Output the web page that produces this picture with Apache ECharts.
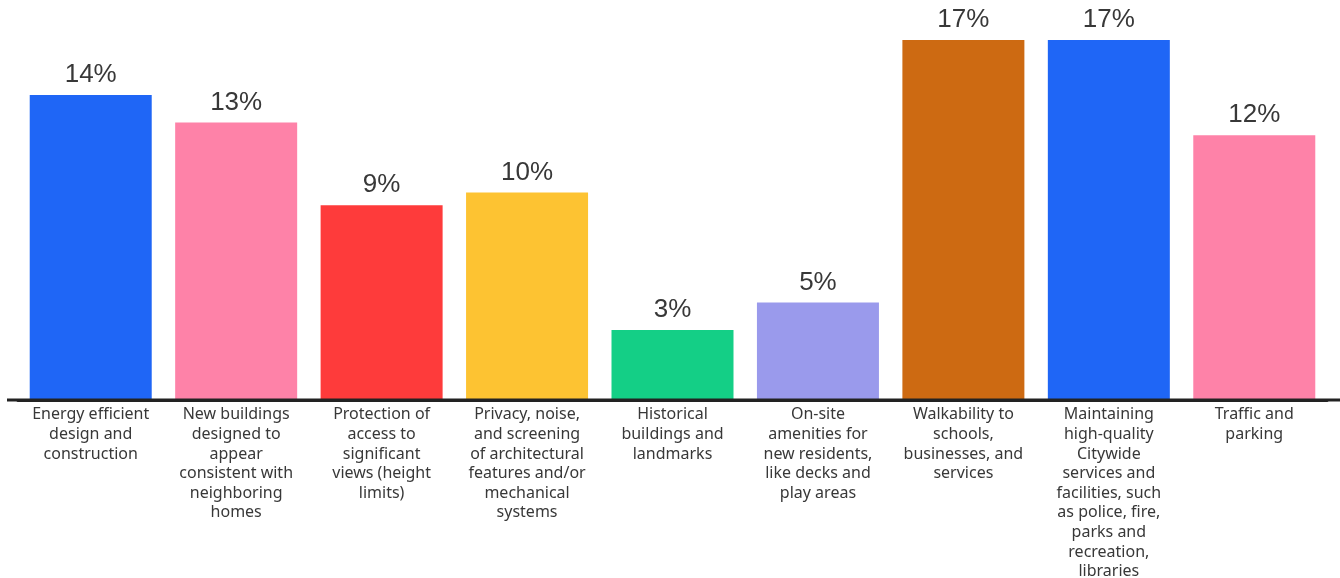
<!DOCTYPE html>
<html>
<head>
<meta charset="utf-8">
<script src="https://cdn.jsdelivr.net/npm/echarts@6/dist/echarts.min.js"></script>
<style>
  html, body { margin: 0; padding: 0; background: #fff; }
  #container { width: 1340px; height: 578px; }
</style>
</head>
<body>
<div id="container"></div>
<script>
var categories = [
    'Energy efficient\ndesign and\nconstruction',
    'New buildings\ndesigned to\nappear\nconsistent with\nneighboring\nhomes',
    'Protection of\naccess to\nsignificant\nviews (height\nlimits)',
    'Privacy, noise,\nand screening\nof architectural\nfeatures and/or\nmechanical\nsystems',
    'Historical\nbuildings and\nlandmarks',
    'On-site\namenities for\nnew residents,\nlike decks and\nplay areas',
    'Walkability to\nschools,\nbusinesses, and\nservices',
    'Maintaining\nhigh-quality\nCitywide\nservices and\nfacilities, such\nas police, fire,\nparks and\nrecreation,\nlibraries',
    'Traffic and\nparking'
];
// bar heights (labels are the rounded figures)
var values = [14.4, 13.1, 9.2, 9.8, 3.3, 4.6, 17, 17, 12.5];
var valueLabels = ['14%', '13%', '9%', '10%', '3%', '5%', '17%', '17%', '12%'];
var barColors = ['#1f66f6', '#fe82a8', '#fe3b3b', '#fdc332', '#14cf86', '#9a9aec', '#cd6a12', '#1f66f6', '#fe82a8'];

var chart = echarts.init(document.getElementById('container'));

chart.setOption({
    animation: false,
    backgroundColor: '#fff',
    grid: { left: 18, right: 13, top: 40, bottom: 178, outerBoundsMode: 'none' },
    xAxis: {
        type: 'category',
        data: categories,
        axisLine: { lineStyle: { color: '#222', width: 3 } },
        axisTick: { show: false },
        axisLabel: {
            interval: 0,
            margin: 5,
            fontFamily: 'Noto Sans',
            fontSize: 16,
            lineHeight: 19.6,
            color: '#383838',
            align: 'center',
            verticalAlign: 'top'
        }
    },
    yAxis: {
        type: 'value',
        min: 0,
        max: 17,
        show: false
    },
    series: [{
        type: 'bar',
        barWidth: 122,
        data: values.map(function (v, i) {
            return { value: v, itemStyle: { color: barColors[i] } };
        }),
        label: {
            show: true,
            position: 'top',
            distance: 7,
            fontFamily: 'Liberation Sans',
            fontSize: 26,
            color: '#383838',
            formatter: function (p) { return valueLabels[p.dataIndex]; }
        }
    }]
});

// the baseline runs past the plot on both sides
var baseY = chart.convertToPixel({ yAxisIndex: 0 }, 0);
chart.setOption({
    graphic: [{
        type: 'line',
        shape: { x1: 7, y1: baseY, x2: chart.getWidth(), y2: baseY },
        style: { stroke: '#222', lineWidth: 3 },
        z: 10
    }]
});
</script>
</body>
</html>
